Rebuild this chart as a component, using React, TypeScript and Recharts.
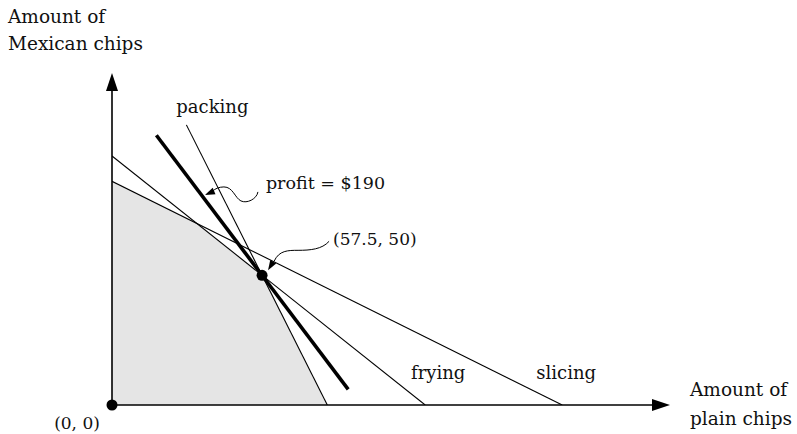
import React from "react";
import { ComposedChart, XAxis, YAxis, Line, Area, ReferenceLine, ReferenceDot } from "recharts";

const font = "'DejaVu Serif', serif";

// constraint lines, as points (plain chips, Mexican chips)
const slicing = [{ x: 0, y: 86.25 }, { x: 172.5, y: 0 }];
const frying = [{ x: 0, y: 96 }, { x: 120, y: 0 }];
const packing = [{ x: 28.5, y: 108 }, { x: 82.5, y: 0 }];
// iso-profit line 2x + 1.5y = 190
const profit = [{ x: 17, y: 104 }, { x: 90.5, y: 6 }];
// corners of the feasible region (upper boundary)
const feasible = [
  { x: 0, y: 86.25 },
  { x: 32.5, y: 70 },
  { x: 57.5, y: 50 },
  { x: 82.5, y: 0 },
];
const optimum = { x: 57.5, y: 50 };
const xMax = 213.8;
const yMax = 128;

// triangle points for an arrow head ending at (tx, ty), coming from (fx, fy)
function head(tx: number, ty: number, fx: number, fy: number, len: number, half: number) {
  const dx = tx - fx;
  const dy = ty - fy;
  const d = Math.hypot(dx, dy) || 1;
  const ux = dx / d;
  const uy = dy / d;
  const bx = tx - ux * len;
  const by = ty - uy * len;
  return `${tx},${ty} ${bx - uy * half},${by + ux * half} ${bx + uy * half},${by - ux * half}`;
}

const axisShape = (p: any) => {
  const { x1, y1, x2, y2 } = p;
  const dx = x2 - x1;
  const dy = y2 - y1;
  const d = Math.hypot(dx, dy) || 1;
  const len = 18;
  return (
    <g>
      <line x1={x1} y1={y1} x2={x2 - (dx / d) * len} y2={y2 - (dy / d) * len} stroke="#000" strokeWidth={1.6} />
      <polygon points={head(x2, y2, x1, y1, len, 6)} fill="#000" />
    </g>
  );
};

// text drawn next to a reference point, offsets in px
const textAt = (lines: string[], dx: number, dy: number, anchor: string, size = 18, gap = 27) => (p: any) => (
  <g>
    {lines.map((l, i) => (
      <text
        key={i}
        x={p.cx + dx}
        y={p.cy + dy + i * gap}
        textAnchor={anchor}
        dominantBaseline="central"
        fontFamily={font}
        fontSize={size}
        fill="#111"
      >
        {l}
      </text>
    ))}
  </g>
);

const profitArrow = (p: any) => (
  <g transform={`translate(${p.cx},${p.cy})`}>
    <path d="M 53 -3 C 52 4, 42 9, 36 6 C 30 3, 28 -8, 19 -8 C 14 -8, 10 -6, 8 -4" fill="none" stroke="#000" strokeWidth={1} />
    <polygon points={head(0, 0, 14, -6, 10, 3.5)} fill="#000" />
  </g>
);

const pointArrow = (p: any) => (
  <g transform={`translate(${p.cx},${p.cy})`}>
    <path d="M 67 -34 C 60 -26, 48 -25, 36 -25 C 26 -25, 17 -25, 12 -14" fill="none" stroke="#000" strokeWidth={1} />
    <polygon points={head(6, -5, 12, -15, 10, 3.5)} fill="#000" />
  </g>
);

export default function App() {
  return (
    <div style={{ position: "absolute", left: 0, top: 0, width: 797, height: 434, background: "#fff" }}>
      <ComposedChart width={797} height={434} margin={{ top: 73, right: 127, bottom: 29, left: 112 }}>
        <XAxis type="number" dataKey="x" domain={[0, xMax]} hide allowDataOverflow />
        <YAxis type="number" dataKey="y" domain={[0, yMax]} hide allowDataOverflow />
        <Area data={feasible} dataKey="y" type="linear" fill="#e5e5e5" fillOpacity={1} stroke="none" isAnimationActive={false} />
        <Line data={slicing} dataKey="y" type="linear" stroke="#000" strokeWidth={1.1} dot={false} isAnimationActive={false} />
        <Line data={frying} dataKey="y" type="linear" stroke="#000" strokeWidth={1.1} dot={false} isAnimationActive={false} />
        <Line data={packing} dataKey="y" type="linear" stroke="#000" strokeWidth={1.1} dot={false} isAnimationActive={false} />
        <Line data={profit} dataKey="y" type="linear" stroke="#000" strokeWidth={3.6} dot={false} isAnimationActive={false} />
        <ReferenceLine segment={[{ x: 0, y: 0 }, { x: xMax, y: 0 }]} shape={axisShape} ifOverflow="visible" />
        <ReferenceLine segment={[{ x: 0, y: 0 }, { x: 0, y: yMax }]} shape={axisShape} ifOverflow="visible" />
        <ReferenceDot x={0} y={0} r={5.5} fill="#000" stroke="none" ifOverflow="visible" />
        <ReferenceDot x={optimum.x} y={optimum.y} r={5.5} fill="#000" stroke="none" ifOverflow="visible" />
        <ReferenceDot x={35.6} y={81} shape={profitArrow} ifOverflow="visible" />
        <ReferenceDot x={optimum.x} y={optimum.y} shape={pointArrow} ifOverflow="visible" />
        <ReferenceDot x={0} y={yMax} shape={textAt(["Amount of", "Mexican chips"], -104, -57, "start", 18.5)} ifOverflow="visible" />
        <ReferenceDot x={xMax} y={0} shape={textAt(["Amount of", "plain chips"], 20, -16, "start", 18.5, 29)} ifOverflow="visible" />
        <ReferenceDot x={0} y={0} shape={textAt(["(0, 0)"], -35, 18, "middle", 17)} ifOverflow="visible" />
        <ReferenceDot x={packing[0].x} y={packing[0].y} shape={textAt(["packing"], 26, -18, "middle")} ifOverflow="visible" />
        <ReferenceDot x={35.6} y={81} shape={textAt(["profit = $190"], 61, -12, "start", 17.5)} ifOverflow="visible" />
        <ReferenceDot x={optimum.x} y={optimum.y} shape={textAt(["(57.5, 50)"], 71, -36, "start", 17)} ifOverflow="visible" />
        <ReferenceDot x={frying[1].x} y={frying[1].y} shape={textAt(["frying"], 13, -33, "middle")} ifOverflow="visible" />
        <ReferenceDot x={slicing[1].x} y={slicing[1].y} shape={textAt(["slicing"], 4, -33, "middle")} ifOverflow="visible" />
      </ComposedChart>
    </div>
  );
}
